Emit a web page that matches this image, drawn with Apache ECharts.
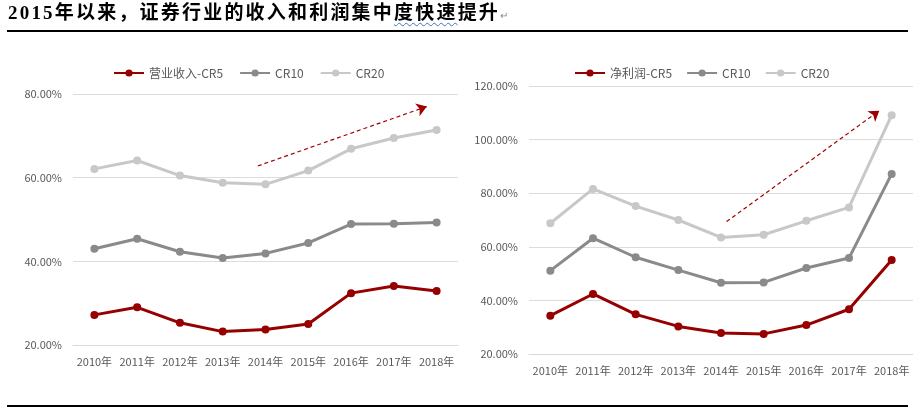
<!DOCTYPE html>
<html>
<head>
<meta charset="utf-8">
<script src="https://cdn.jsdelivr.net/npm/echarts@6/dist/echarts.min.js"></script>
<style>
  html, body { margin: 0; padding: 0; background: #fff; }
  #wrap { position: relative; width: 913px; height: 414px; overflow: hidden; }
  #chart { position: absolute; left: 0; top: 0; width: 913px; height: 414px; }
  #title { position: absolute; left: 8px; top: 2px; font-family: "Liberation Serif", "Noto Sans CJK SC", serif; font-weight: bold; font-size: 19px; letter-spacing: 2.2px; color: #000; white-space: nowrap; line-height: 22px; }
  #title .wavy { text-decoration: underline wavy #4472c4; text-decoration-thickness: 1px; text-underline-offset: 3px; }
  #title .para { font-weight: normal; font-size: 10px; color: #888; letter-spacing: 0; }
  .rule { position: absolute; left: 7px; width: 901px; height: 2px; background: #000; }
</style>
</head>
<body>
<div id="wrap">
  <div id="chart"></div>
  <div id="title">2015年以来，证券行业的收入和利润集中<span class="wavy">度快速</span>提升<span class="para">↵</span></div>
  <div class="rule" style="top:30px"></div>
  <div class="rule" style="top:405px"></div>
</div>
<script>
// ---- data ----
var years = ['2010年', '2011年', '2012年', '2013年', '2014年', '2015年', '2016年', '2017年', '2018年'];
var revCR5  = [27.2, 29.0, 25.3, 23.2, 23.7, 25.0, 32.4, 34.1, 32.9];
var revCR10 = [43.0, 45.4, 42.3, 40.8, 41.9, 44.4, 48.9, 49.0, 49.3];
var revCR20 = [62.1, 64.1, 60.5, 58.8, 58.4, 61.7, 66.9, 69.5, 71.4];
var profCR5  = [34.3, 42.4, 34.8, 30.3, 27.8, 27.5, 30.8, 36.7, 55.1];
var profCR10 = [51.1, 63.2, 56.1, 51.3, 46.6, 46.7, 52.1, 55.8, 87.2];
var profCR20 = [68.8, 81.6, 75.2, 70.0, 63.5, 64.5, 69.7, 74.7, 109.1];
// trend arrows: [category position, value]
var revTrend  = [[3.82, 62.8], [7.77, 77.0]];
var profTrend = [[4.13, 69.4], [7.71, 110.8]];
var revNames  = ['营业收入-CR5', 'CR10', 'CR20'];
var profNames = ['净利润-CR5', 'CR10 ', 'CR20 '];

var RED = '#960000', GRAY = '#8a8a8a', LIGHT = '#c8c8c8';
var FONT = '"Noto Sans CJK SC", "Noto Sans", sans-serif';
var TXT = '#595959';

function lineSeries(name, data, color, idx) {
  return {
    name: name, type: 'line', data: data,
    xAxisIndex: idx, yAxisIndex: idx,
    symbol: 'circle', symbolSize: 8,
    lineStyle: { color: color, width: 3 },
    itemStyle: { color: color },
    emphasis: { disabled: true },
    animation: false, z: 3
  };
}
function trendSeries(coords, idx) {
  return {
    type: 'lines', coordinateSystem: 'cartesian2d',
    xAxisIndex: idx, yAxisIndex: idx,
    data: [{ coords: coords }],
    symbol: ['none', 'arrow'], symbolSize: [0, 10],
    lineStyle: { color: '#a00000', width: 1.2, type: [4, 3], opacity: 1 },
    animation: false, silent: true, z: 4
  };
}
function catAxis(gridIndex) {
  return {
    type: 'category', gridIndex: gridIndex, data: years, boundaryGap: true,
    axisLine: { show: true, lineStyle: { color: '#d9d9d9', width: 1 } },
    axisTick: { show: false },
    axisLabel: { color: TXT, fontSize: 11, fontFamily: FONT, margin: 11, interval: 0 }
  };
}
function helperAxis(gridIndex) {
  return { type: 'value', gridIndex: gridIndex, min: -0.5, max: 8.5, show: false };
}
function valAxis(gridIndex, max) {
  return {
    type: 'value', gridIndex: gridIndex, min: 20, max: max, interval: 20,
    axisLine: { show: false }, axisTick: { show: false },
    splitLine: { lineStyle: { color: '#dcdcdc', width: 1 } },
    axisLabel: { color: TXT, fontSize: 11, fontFamily: FONT, margin: 11,
      formatter: function (v) { return v.toFixed(2) + '%'; } }
  };
}

var chart = echarts.init(document.getElementById('chart'), null, { renderer: 'canvas' });
chart.setOption({
  backgroundColor: 'transparent',
  animation: false,
  textStyle: { fontFamily: FONT },
  legend: [
    { data: revNames, left: 108, top: 62, itemWidth: 30, itemHeight: 9, itemGap: 16,
      textStyle: { color: TXT, fontSize: 12, fontFamily: FONT }, selectedMode: false },
    { data: profNames, left: 569, top: 62, itemWidth: 30, itemHeight: 9, itemGap: 14,
      textStyle: { color: TXT, fontSize: 12, fontFamily: FONT }, selectedMode: false,
      formatter: function (n) { return n.trim(); } }
  ],
  grid: [
    { left: 73, width: 385, top: 94, height: 251 },
    { left: 529, width: 387, top: 86, height: 268 }
  ],
  xAxis: [catAxis(0), catAxis(1), helperAxis(0), helperAxis(1)],
  yAxis: [valAxis(0, 80), valAxis(1, 120), valAxis(0, 80), valAxis(1, 120)].map(function (a, i) {
    if (i >= 2) { a.show = false; a.splitLine = { show: false }; }
    return a;
  }),
  series: [
    lineSeries(revNames[0], revCR5, RED, 0),
    lineSeries(revNames[1], revCR10, GRAY, 0),
    lineSeries(revNames[2], revCR20, LIGHT, 0),
    lineSeries(profNames[0], profCR5, RED, 1),
    lineSeries(profNames[1], profCR10, GRAY, 1),
    lineSeries(profNames[2], profCR20, LIGHT, 1),
    trendSeries(revTrend, 2),
    trendSeries(profTrend, 3)
  ]
});
</script>
</body>
</html>
